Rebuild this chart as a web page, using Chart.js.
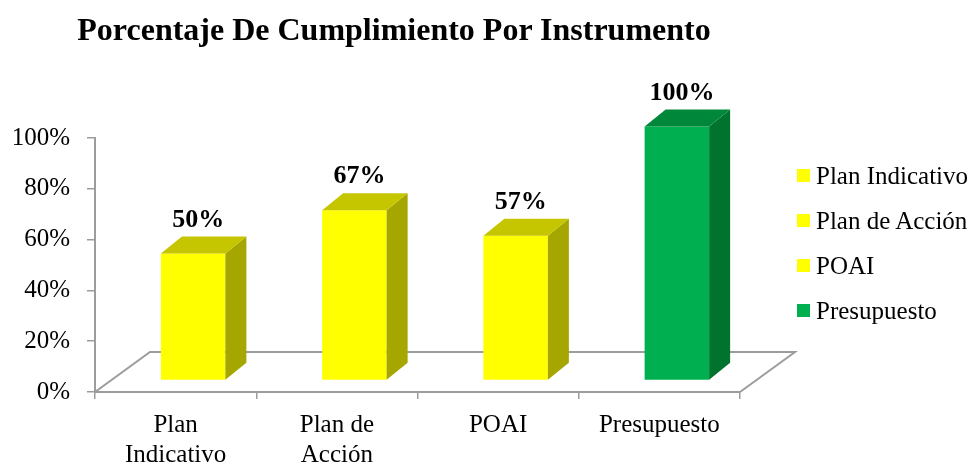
<!DOCTYPE html>
<html>
<head>
<meta charset="utf-8">
<script src="https://cdn.jsdelivr.net/npm/chart.js@4/dist/chart.umd.min.js"></script>
<style>
  body { margin:0; background:#fff; }
  #wrap { position:relative; width:980px; height:465px; font-family:'Liberation Serif','Times New Roman',serif; color:#000; }
  #title { position:absolute; left:0; top:13px; width:788px; text-align:center; font-size:32px; font-weight:bold; line-height:1; white-space:nowrap; }
  #legend { position:absolute; left:797px; top:153px; font-size:25px; }
  .leg-item { height:45px; display:flex; align-items:center; white-space:nowrap; }
  .leg-box { width:13px; height:13px; margin-right:6px; }
</style>
</head>
<body>
<div id="wrap">
  <canvas id="chart" width="980" height="465"></canvas>
  <div id="title">Porcentaje De Cumplimiento Por Instrumento</div>
  <div id="legend"></div>
</div>
<script>
// ============================================================
// Porcentaje de cumplimiento por instrumento
// ============================================================

var categories = ['Plan Indicativo', 'Plan de Acción', 'POAI', 'Presupuesto'];
var axisLabels = [['Plan', 'Indicativo'], ['Plan de', 'Acción'], 'POAI', 'Presupuesto'];
var values = [50, 67, 57, 100];
var yTicks = [0, 20, 40, 60, 80, 100];

var frontColors = ['#FFFF00', '#FFFF00', '#FFFF00', '#00B050'];
var sideColors  = ['#A6A600', '#A6A600', '#A6A600', '#00732F'];
var topColors   = ['#C6C600', '#C6C600', '#C6C600', '#00873A'];

// 3D look
var BAR_DX = 17.5, BAR_DY = -11.5;   // where the front face sits on the floor
var DEPTH_DX = 21, DEPTH_DY = -17;   // bar depth
var FLOOR_DX = 55, FLOOR_DY = -40;   // floor depth
var AXIS_GRAY = '#9c9c9c';
var FONT = "'Liberation Serif', 'Times New Roman', serif";

var bars3d = {
  id: 'bars3d',
  beforeDatasetsDraw: function(chart) {
    var ctx = chart.ctx, x = chart.scales.x, y = chart.scales.y;
    var y0 = y.getPixelForValue(0);
    ctx.save();
    ctx.strokeStyle = AXIS_GRAY;
    ctx.lineWidth = 2;
    ctx.beginPath();
    ctx.moveTo(x.left, y0);
    ctx.lineTo(x.left + FLOOR_DX, y0 + FLOOR_DY);
    ctx.lineTo(x.right + FLOOR_DX, y0 + FLOOR_DY);
    ctx.lineTo(x.right, y0);
    ctx.stroke();
    ctx.restore();
  },
  beforeDatasetDraw: function(chart) {
    chart.ctx.save();
    chart.ctx.translate(BAR_DX, BAR_DY);
  },
  afterDatasetDraw: function(chart, args) {
    var ctx = chart.ctx;
    args.meta.data.forEach(function(bar, i) {
      var l = bar.x - bar.width / 2, r = bar.x + bar.width / 2;
      // side
      ctx.fillStyle = sideColors[i];
      ctx.beginPath();
      ctx.moveTo(r, bar.y);
      ctx.lineTo(r + DEPTH_DX, bar.y + DEPTH_DY);
      ctx.lineTo(r + DEPTH_DX, bar.base + DEPTH_DY);
      ctx.lineTo(r, bar.base);
      ctx.closePath();
      ctx.fill();
      // top
      ctx.fillStyle = topColors[i];
      ctx.beginPath();
      ctx.moveTo(l, bar.y);
      ctx.lineTo(l + DEPTH_DX, bar.y + DEPTH_DY);
      ctx.lineTo(r + DEPTH_DX, bar.y + DEPTH_DY);
      ctx.lineTo(r, bar.y);
      ctx.closePath();
      ctx.fill();
      // value label
      ctx.fillStyle = '#000';
      ctx.font = 'bold 26px ' + FONT;
      ctx.textAlign = 'center';
      ctx.textBaseline = 'alphabetic';
      ctx.fillText(values[i] + '%', bar.x + 5, bar.y + DEPTH_DY - 10);
    });
    ctx.restore();
  }
};

Chart.defaults.font.family = FONT;
Chart.defaults.color = '#000';

var ctx = document.getElementById('chart').getContext('2d');
var chart = new Chart(ctx, {
  type: 'bar',
  data: {
    labels: axisLabels,
    datasets: [{
      label: 'Cumplimiento',
      data: values,
      backgroundColor: frontColors,
      borderWidth: 0,
      categoryPercentage: 1,
      barPercentage: 0.4,
      clip: false
    }]
  },
  options: {
    responsive: false,
    animation: false,
    events: [],
    layout: { padding: { left: 0, right: 240, top: 138, bottom: 0 } },
    plugins: {
      legend: { display: false },
      tooltip: { enabled: false }
    },
    scales: {
      y: {
        min: 0, max: 100,
        afterFit: function(scale) { scale.width = 95; },
        afterBuildTicks: function(scale) { scale.ticks = yTicks.map(function(v) { return { value: v }; }); },
        ticks: { font: { size: 25 }, padding: 17, callback: function(v) { return v + '%'; } },
        grid: { drawOnChartArea: false, drawTicks: true, tickLength: 8, color: AXIS_GRAY, lineWidth: 1.5 },
        border: { display: true, color: AXIS_GRAY, width: 2 }
      },
      x: {
        afterFit: function(scale) { scale.height = 73; },
        ticks: { font: { size: 25, lineHeight: 1.2 }, padding: 11, maxRotation: 0, autoSkip: false },
        grid: { drawOnChartArea: false, drawTicks: true, tickLength: 7, color: AXIS_GRAY, lineWidth: 1.5, offset: true },
        border: { display: true, color: AXIS_GRAY, width: 2 }
      }
    }
  },
  plugins: [bars3d]
});

// legend
document.getElementById('legend').innerHTML = categories.map(function(c, i) {
  return '<div class="leg-item"><span class="leg-box" style="background:' + frontColors[i] + '"></span>' + c + '</div>';
}).join('');
</script>
</body>
</html>
